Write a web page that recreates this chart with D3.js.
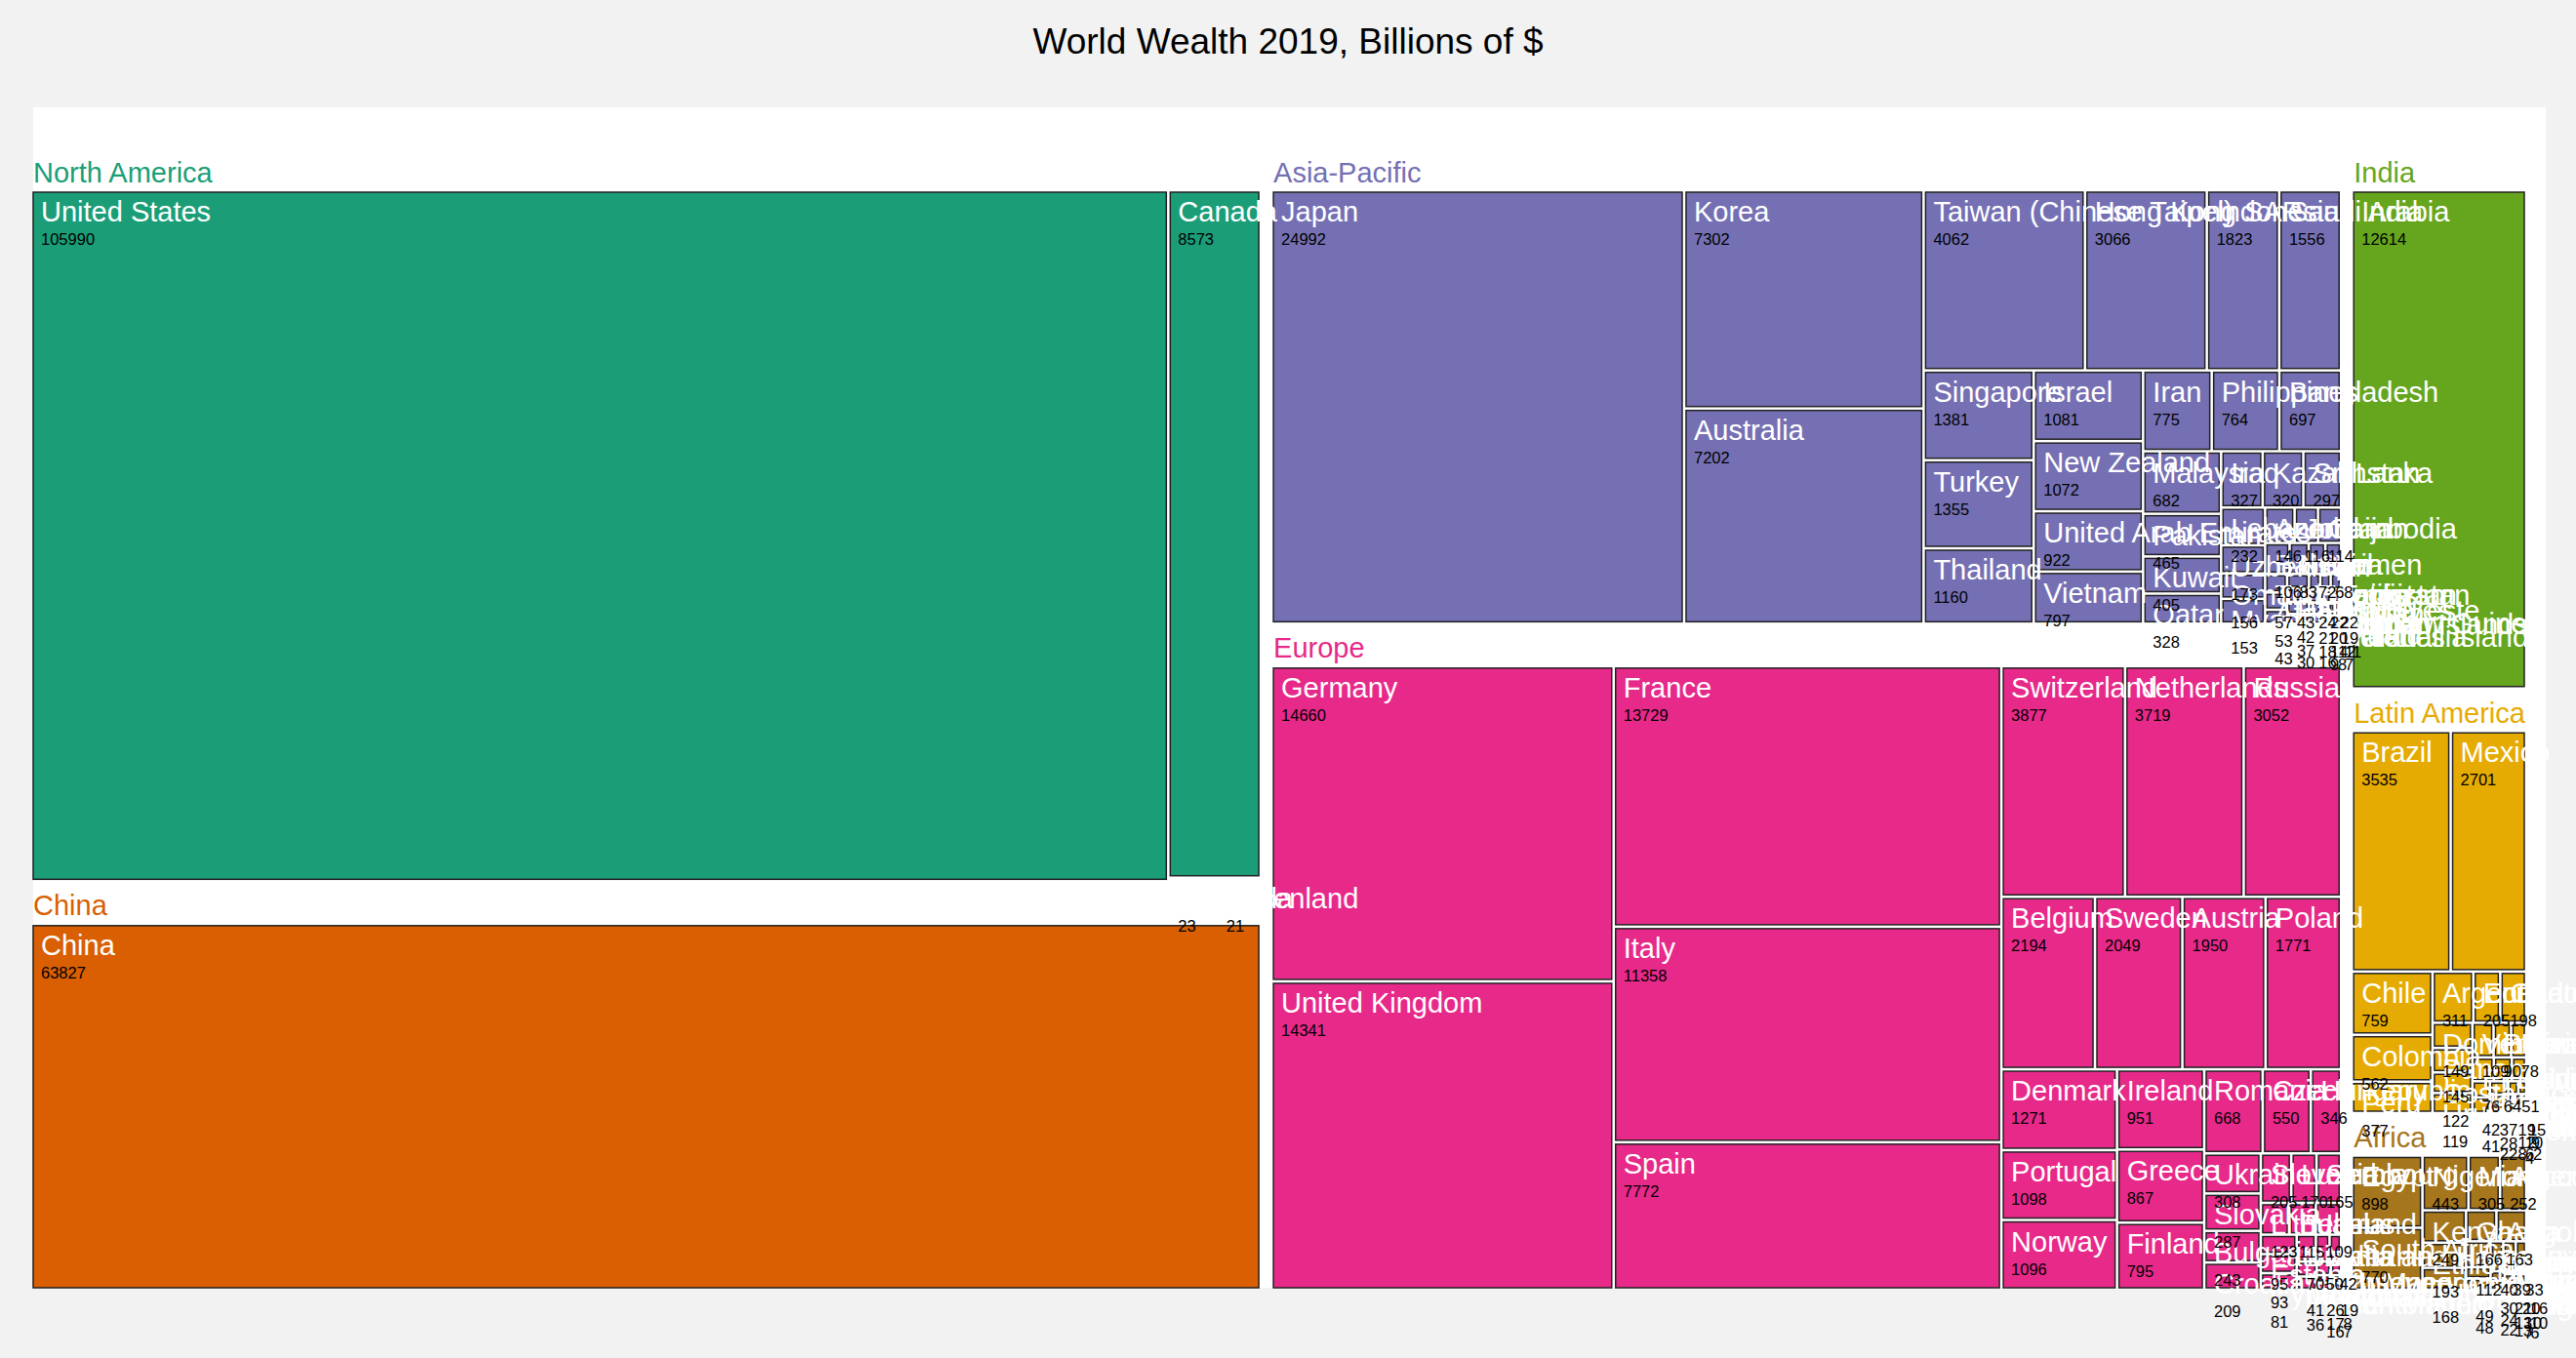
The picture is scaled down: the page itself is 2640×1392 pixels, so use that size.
<!DOCTYPE html>
<html><head><meta charset="utf-8">
<script src="https://cdn.jsdelivr.net/npm/d3@7"></script>
<style>
html,body{margin:0;padding:0;background:#f2f2f2;}
svg{display:block;font-family:"Liberation Sans",Arial,Helvetica,sans-serif;}
</style></head><body>
<svg id="chart" width="2640" height="1392"></svg>
<script>
const title = "World Wealth 2019, Billions of $";
const regions = ["North America","China","Asia-Pacific","Europe","India","Latin America","Africa"];

const northAmericaNames = ["United States","Canada","Bermuda","Greenland"];
const northAmericaValues = [105990,8573,23,21];

const chinaNames = ["China"];
const chinaValues = [63827];

const asiaPacificNames = ["Japan","Korea","Australia","Taiwan (Chinese Taipei)","Hong Kong SAR","Indonesia","Saudi Arabia","Singapore","Turkey","Thailand","Israel","New Zealand","United Arab Emirates","Vietnam","Iran","Philippines","Bangladesh","Malaysia","Pakistan","Kuwait","Qatar","Iraq","Kazakhstan","Sri Lanka","Lebanon","Uzbekistan","Oman","Myanmar","Azerbaijan","Jordan","Cambodia","Bahrain","Nepal","Syria","Yemen","Turkmenistan","Afghanistan","Brunei","Mongolia","Palestine","Papua New Guinea","Laos","Bhutan","Kyrgyzstan","Tajikistan","Fiji","Timor-Leste","Maldives","Solomon Islands","Vanuatu","Samoa","Tonga","Kiribati","Micronesia","Marshall Islands","Palau"];
const asiaPacificValues = [24992,7302,7202,4062,3066,1823,1556,1381,1355,1160,1081,1072,922,797,775,764,697,682,465,405,328,327,320,297,232,173,156,153,146,116,114,106,83,72,68,57,53,43,43,42,37,30,24,22,22,21,20,19,18,16,14,12,11,9,8,7];

const europeNames = ["Germany","United Kingdom","France","Italy","Spain","Switzerland","Netherlands","Russia","Belgium","Sweden","Austria","Poland","Denmark","Portugal","Norway","Ireland","Greece","Finland","Romania","Czech Republic","Hungary","Ukraine","Slovakia","Bulgaria","Croatia","Slovenia","Luxembourg","Serbia","Lithuania","Belarus","Iceland","Latvia","Estonia","Cyprus","Bosnia and Herzegovina","Malta","Albania","North Macedonia","Moldova","Montenegro","Kosovo","Andorra","Liechtenstein","Monaco","San Marino"];
const europeValues = [14660,14341,13729,11358,7772,3877,3719,3052,2194,2049,1950,1771,1271,1098,1096,951,867,795,668,550,346,308,287,243,209,205,170,165,123,115,109,95,93,81,70,50,42,41,36,26,19,17,16,8,7];

const indiaNames = ["India"];
const indiaValues = [12614];

const latinAmericaNames = ["Brazil","Mexico","Chile","Colombia","Peru","Argentina","Ecuador","Guatemala","Dominican Republic","Panama","Costa Rica","Uruguay","Venezuela","Bolivia","Paraguay","El Salvador","Honduras","Trinidad and Tobago","Jamaica","Nicaragua","Bahamas","Haiti","Barbados","Suriname","Belize","Guyana","Antigua and Barbuda","Saint Lucia","Grenada","Saint Vincent","Dominica","Saint Kitts and Nevis"];
const latinAmericaValues = [3535,2701,759,562,377,311,205,198,149,145,122,119,109,90,78,76,64,51,42,41,37,28,22,19,15,12,10,9,8,6,4,2];

const africaNames = ["Egypt","South Africa","Nigeria","Morocco","Algeria","Kenya","Ethiopia","Tunisia","Ghana","Angola","Tanzania","Côte d'Ivoire","Uganda","Cameroon","Sudan","Libya","Zimbabwe","Senegal","Zambia","Mozambique","Botswana","Namibia","Mauritius","DR Congo","Madagascar","Mali","Rwanda","Niger"];
const africaValues = [898,770,443,305,252,249,193,168,166,163,112,49,48,40,39,33,30,24,22,21,20,16,13,13,10,10,7,6];

const regionNames = [northAmericaNames, chinaNames, asiaPacificNames, europeNames, indiaNames, latinAmericaNames, africaNames];
const regionValues = [northAmericaValues, chinaValues, asiaPacificValues, europeValues, indiaValues, latinAmericaValues, africaValues];

const data = {
  name: "World",
  children: regions.map((r, i) => ({
    name: r,
    children: regionNames[i].map((n, j) => ({name: n, value: regionValues[i][j]}))
  }))
};

const W = 2575, H = 1210, OX = 34, OY = 110;
const svg = d3.select("#chart");
const color = d3.scaleOrdinal(regions, d3.schemeDark2);

const root = d3.hierarchy(data).sum(d => d.value || 0);
d3.treemap()
  .size([W, H])
  .paddingTop(43.5)
  .paddingRight(11)
  .paddingLeft(0)
  .paddingBottom(0)
  .paddingInner(4)
  .round(false)(root);

svg.append("text")
  .attr("x", 1320).attr("y", 55)
  .attr("text-anchor", "middle")
  .attr("font-size", 37)
  .attr("fill", "#000")
  .text(title);

const g = svg.append("g").attr("transform", `translate(${OX},${OY})`);
g.append("rect").attr("x", 0).attr("y", 0).attr("width", W).attr("height", H).attr("fill", "#fff");

const leaves = root.leaves();
g.selectAll("rect.leaf").data(leaves).join("rect")
  .attr("class", "leaf")
  .attr("x", d => d.x0).attr("y", d => d.y0)
  .attr("width", d => Math.max(0, d.x1 - d.x0))
  .attr("height", d => Math.max(0, d.y1 - d.y0))
  .attr("fill", d => color(d.parent.data.name))
  .attr("stroke", "#222")
  .attr("stroke-width", 1.5);

g.selectAll("text.group").data(root.children).join("text")
  .attr("class", "group")
  .attr("x", d => d.x0).attr("y", d => d.y0 + 33)
  .attr("font-size", 29)
  .attr("fill", d => color(d.data.name))
  .text(d => d.data.name);

g.selectAll("text.name").data(leaves).join("text")
  .attr("class", "name")
  .attr("x", d => d.x0 + 8).attr("y", d => d.y0 + 30)
  .attr("font-size", 29)
  .attr("fill", "#fff")
  .text(d => d.data.name);

g.selectAll("text.val").data(leaves).join("text")
  .attr("class", "val")
  .attr("x", d => d.x0 + 8).attr("y", d => d.y0 + 54)
  .attr("font-size", 16.5)
  .attr("fill", "#000")
  .text(d => d.data.value);
</script>
</body></html>
